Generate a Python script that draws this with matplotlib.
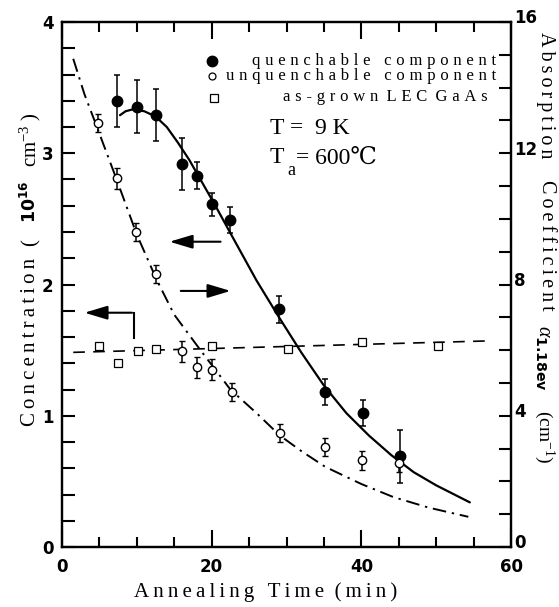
import matplotlib
matplotlib.use("Agg")
import matplotlib.pyplot as plt
import matplotlib.transforms as mtransforms
import numpy as np

plt.rcParams['mathtext.fontset'] = 'custom'
plt.rcParams['mathtext.rm'] = 'Liberation Serif'
plt.rcParams['mathtext.it'] = 'Liberation Serif:italic'
plt.rcParams['mathtext.bf'] = 'DejaVu Sans:bold'

# ---- data ----
q_time = [7.3, 10.0, 12.5, 16.0, 18.0, 20.0, 22.5, 29.0, 35.2, 40.2, 45.2]
q_conc = [3.40, 3.355, 3.29, 2.92, 2.83, 2.61, 2.49, 1.81, 1.18, 1.02, 0.69]
q_err = [0.20, 0.20, 0.20, 0.20, 0.10, 0.09, 0.10, 0.10, 0.10, 0.10, 0.20]

u_time = [4.8, 7.4, 9.9, 12.5, 16.1, 18.1, 20.1, 22.7, 29.1, 35.2, 40.1, 45.1]
u_conc = [3.23, 2.81, 2.40, 2.08, 1.49, 1.37, 1.35, 1.18, 0.87, 0.76, 0.66, 0.64]
u_err = [0.07, 0.08, 0.07, 0.07, 0.08, 0.08, 0.08, 0.07, 0.07, 0.07, 0.07, 0.07]

g_time = [5.0, 7.5, 10.1, 12.6, 20.1, 30.2, 40.1, 50.2]
g_conc = [1.53, 1.40, 1.49, 1.51, 1.53, 1.51, 1.56, 1.53]

fit_q_time = [7.75, 8.5, 9.5, 11, 12.5, 14, 15.5, 17, 18.5, 20.5, 23, 26, 29, 32, 35, 38, 41, 44, 47, 50, 54.5]
fit_q_conc = [3.29, 3.32, 3.335, 3.32, 3.28, 3.20, 3.08, 2.95, 2.80, 2.60, 2.34, 2.03, 1.75, 1.48, 1.23, 1.02, 0.85, 0.70, 0.57, 0.47, 0.34]

fit_u_time = [1.5, 3.0, 4.8, 7.3, 10.0, 12.7, 15.0, 18.5, 22.5, 26, 29.1, 32, 35.2, 40, 44.3, 49, 54.3]
fit_u_conc = [3.72, 3.45, 3.18, 2.80, 2.38, 2.03, 1.77, 1.50, 1.20, 1.02, 0.85, 0.73, 0.61, 0.48, 0.38, 0.30, 0.23]

fit_g_time = [1.5, 56.8]
fit_g_conc = [1.483, 1.57]

xticks = [0, 20, 40, 60]
yticks_left = [0, 1, 2, 3, 4]
yticks_right = [0, 4, 8, 12, 16]

SERIF = ['Liberation Serif', 'DejaVu Serif', 'DejaVu Sans']
SANSB = 'DejaVu Sans'

def spaced(s, sp='\u2009'):
    return sp.join(list(s))

fig = plt.figure(figsize=(5.59, 6.07), dpi=100)
ax = fig.add_axes([62/559, 1-547/607, 449/559, 525/607])
ax.set_xlim(0, 60)
ax.set_ylim(0, 4)

ax.plot(fit_q_time, fit_q_conc, color='black', lw=1.6, solid_capstyle='round')
ax.plot(fit_u_time, fit_u_conc, color='black', lw=1.4, linestyle=(0, (7, 3, 1.2, 3)))
ax.plot(fit_g_time, fit_g_conc, color='black', lw=1.2, linestyle=(0, (7, 5)))

ax.errorbar(q_time, q_conc, yerr=q_err, fmt='o', ms=7.5, mfc='black', mec='black',
            ecolor='black', elinewidth=1.1, capsize=2.5, capthick=1.1, zorder=4)
ax.errorbar(u_time, u_conc, yerr=u_err, fmt='o', ms=6, mfc='white', mec='black', mew=1.0,
            ecolor='black', elinewidth=1.1, capsize=2.5, capthick=1.1, zorder=5)
ax.plot(g_time, g_conc, 's', ms=6, mfc='white', mec='black', mew=0.9, zorder=5)

# spines & ticks
for s in ax.spines.values():
    s.set_linewidth(1.6)
ax.set_xticks(xticks)
ax.set_xticks(np.arange(0, 61, 5), minor=True)
ax.set_yticks(yticks_left)
ax.set_yticks(np.arange(0, 4.01, 0.2), minor=True)
ax.tick_params(axis='x', which='major', direction='in', length=12, width=1.5, top=True, pad=8)
ax.tick_params(axis='x', which='minor', direction='in', length=7, width=1.5, top=True)
ax.tick_params(axis='y', which='both', direction='in', length=9, width=1.5, right=False, pad=6)
for lab in ax.get_xticklabels() + ax.get_yticklabels():
    lab.set_fontfamily(SANSB)
    lab.set_fontweight('bold')
    lab.set_fontsize(12)

ax2 = ax.twinx()
ax2.set_ylim(0, 16)
ax2.set_yticks(yticks_right)
ax2.set_yticks(np.arange(0, 17, 1), minor=True)
ax2.tick_params(axis='y', which='both', direction='in', length=9, width=1.5, pad=2)
up = mtransforms.ScaledTranslation(0, 4/72, fig.dpi_scale_trans)
for lab in ax2.get_yticklabels():
    lab.set_fontfamily(SANSB)
    lab.set_fontweight('bold')
    lab.set_fontsize(12)
    lab.set_transform(lab.get_transform() + up)
for s in ax2.spines.values():
    s.set_linewidth(1.6)

# legend
LSP = '\u2009\u200a'
ax.plot([20.0], [3.705], 'o', ms=7.5, mfc='black', mec='black')
ax.plot([20.0], [3.59], 'o', ms=5, mfc='white', mec='black', mew=0.9)
ax.plot([20.3], [3.42], 's', ms=6, mfc='white', mec='black', mew=0.9)
ax.text(58.0, 3.705, spaced('quenchable component', LSP), ha='right', va='center', fontsize=12, family=SERIF)
ax.text(58.0, 3.585, spaced('unquenchable component', LSP), ha='right', va='center', fontsize=12, family=SERIF)
ax.text(56.9, 3.43, spaced('as-grown', LSP) + '  ' + spaced('LEC', LSP) + '  ' + spaced('GaAs', LSP),
        ha='right', va='center', fontsize=12, family=SERIF)

# condition annotations
ax.text(27.8, 3.19, 'T =  9 K', ha='left', va='center', fontsize=17, family=SERIF)
ax.text(27.8, 2.965, 'T', ha='left', va='center', fontsize=17, family=SERIF)
ax.text(30.1, 2.87, 'a', ha='left', va='center', fontsize=13, family=SERIF)
ax.text(31.3, 2.965, '= 600\u2103', ha='left', va='center', fontsize=17, family=SERIF)

# arrows
ap = dict(arrowstyle='-|>,head_length=1.0,head_width=0.3', color='black', lw=1.5, mutation_scale=14)
ax.annotate('', xy=(14.0, 2.326), xytext=(21.56, 2.326), arrowprops=ap)
ax.annotate('', xy=(22.9, 1.951), xytext=(15.5, 1.951), arrowprops=ap)
ax.plot([9.63, 9.63], [1.59, 1.785], color='black', lw=1.5)
ax.annotate('', xy=(2.63, 1.785), xytext=(9.63 + 0.1, 1.785), arrowprops=ap)

# axis labels
fig.text(266/559, 1-592/607, spaced('Annealing Time') + '  ' + spaced('(min)'),
         ha='center', va='center', fontsize=15, family=SERIF)

def ftext(px, py, s, **kw):
    return fig.text(px/559, 1-py/607, s, ha='center', va='center', **kw)

# left label (rotated 90, reads bottom to top)
ftext(31, 342, spaced('Concentration'), rotation=90, fontsize=15, family=SERIF)
ftext(31, 243, '(', rotation=90, fontsize=15, family=SERIF)
ftext(30, 202, r'$\mathbf{10^{16}}$', rotation=90, fontsize=12.5)
ftext(31, 146, 'cm$^{-3}$', rotation=90, fontsize=15, family=SERIF)
ftext(31, 117, ')', rotation=90, fontsize=15, family=SERIF)

# right label (rotated -90, reads top to bottom)
ftext(546, 95, spaced('Absorption'), rotation=-90, fontsize=14.5, family=SERIF)
ftext(546, 245, spaced('Coefficient'), rotation=-90, fontsize=14.5, family=SERIF)
ftext(544, 358, r'$\alpha_{\mathbf{1.18ev}}$', rotation=-90, fontsize=14.5, family=SERIF)
ftext(544, 437, '(cm$^{-1}$)', rotation=-90, fontsize=14, family=SERIF)

fig.savefig('out.png', dpi=100)
